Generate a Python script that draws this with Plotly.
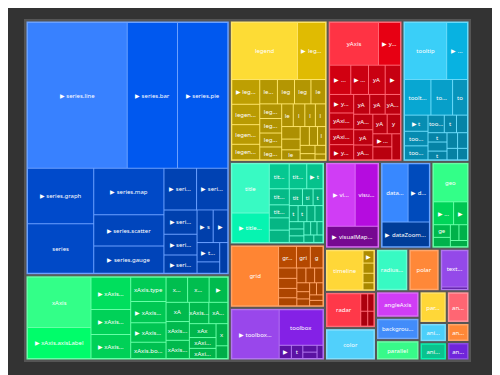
import colorsys
import plotly.graph_objects as go

# ---------------- data ----------------
group_names = ["series", "xAxis", "legend", "yAxis", "tooltip", "title", "grid", "toolbox",
               "visualMap", "dataZoom", "geo", "timeline", "radar", "textStyle"]

series_labels = ["▶ series.line", "▶ series.bar", "▶ series.pie", "▶ series.graph", "series",
                 "▶ series.map", "▶ series.scatter", "▶ series.gauge", "▶ seri...", "▶ seri...",
                 "▶ seri...", "▶ seri...", "▶ seri...", "▶ s", "▶", "▶ t...", "", ""]
series_values = [14600, 7360, 7360, 3700, 3300, 3290, 2200, 1930, 1370, 1310,
                 810, 690, 610, 530, 480, 440, 260, 250]

xaxis_labels = ["xAxis", "▶ xAxis.axisLabel", "▶ xAxis...", "▶ xAxis...", "▶ xAxis...", "xAxis.type",
                "▶ xAxis...", "▶ xAxis...", "xAxis.bo...", "x...", "x...", "▶", "xA", "xAxis...",
                "xAxis...", "xAxis...", "xA...", "xAx", "xAxi...", "xAxi...", "x", ""]
xaxis_values = [3300, 2050, 1330, 1030, 990, 890, 780, 710, 600, 560, 560, 485, 465, 455,
                440, 430, 420, 385, 300, 280, 270, 155]

legend_labels = ["legend", "▶ leg...", "▶ leg...", "legen...", "legen...", "legen...", "le...", "leg",
                 "leg", "le", "leg...", "leg...", "leg...", "leg...", "le", "l", "l", "l", "", "",
                 "le", "", "", "l", "", "", "", ""]
legend_values = [3900, 1670, 720, 592, 572, 452, 448, 433, 416, 372, 334, 332, 318, 294, 274,
                 273, 249, 242, 241, 206, 193, 180, 160, 158, 128, 96, 96, 64]

yaxis_labels = ["yAxis", "▶ y...", "▶ ...", "▶ ...", "yA", "▶", "▶ y...", "yAxi...", "yAxi...",
                "▶ y...", "yA", "yA", "yA...", "yA...", "yA", "yA...", "yA", "y", "▶ ...", "", ""]
yaxis_values = [2200, 990, 653, 547, 515, 473, 470, 410, 393, 385, 334, 322, 320, 314, 309,
                300, 296, 275, 261, 261, 238]

tooltip_labels = ["tooltip", "▶ ...", "toolt...", "to...", "to", "▶ t", "too...", "too...", "too...",
                  "t", "", "t", "", "t", "", "", "", ""]
tooltip_values = [2550, 1260, 1000, 820, 565, 403, 364, 349, 304, 228, 205, 188, 183, 176,
                  176, 165, 129, 121]

title_labels = ["title", "▶ title...", "tit...", "tit...", "▶ t", "tit...", "tit...", "", "", "tit",
                "ti", "t", "t", "t", "", "", "", "", "", "", "", "", "", ""]
title_values = [1966, 1171, 528, 466, 431, 342, 277, 262, 262, 236, 189, 177, 150, 150, 138,
                138, 113, 107, 102, 96, 90, 85, 79, 73]

grid_labels = ["grid", "gr...", "gri", "g", "", "", "", "", "", "", "", "", "", "", "", "", "", ""]
grid_values = [3000, 416, 323, 294, 205, 198, 185, 158, 145, 140, 134, 123, 100, 95, 90, 85, 80, 78]

toolbox_labels = ["▶ toolbox...", "toolbox", "▶", "t", "", "", ""]
toolbox_values = [2530, 1706, 176, 165, 106, 99, 86]

visualmap_labels = ["▶ vi...", "visu...", "▶ visualMap..."]
visualmap_values = [1925, 1565, 1150]

datazoom_labels = ["data...", "▶ d...", "▶ dataZoom..."]
datazoom_values = [1670, 1370, 1285]

geo_labels = ["geo", "▶ ...", "▶", "ge", "", "", "", ""]
geo_values = [1470, 525, 362, 244, 179, 154, 154, 120]

timeline_labels = ["timeline", "▶", "", "", ""]
timeline_values = [1636, 158, 129, 121, 90]

radar_labels = ["radar", "", "", "", ""]
radar_values = [1290, 143, 129, 123, 110]

textstyle_labels = ["text...", ""]
textstyle_values = [1160, 72]

# top-level options that show as a single tile
single_names = ["color", "radiusAxis", "polar", "angleAxis", "backgroundColor", "parallel",
                "parallelAxis", "animationDuration", "animationEasing", "animation",
                "animationDelay", "aria"]
single_labels = ["color", "radius...", "polar", "angleAxis", "backgrou...", "parallel",
                 "par...", "ani...", "ani...", "an...", "an...", "an..."]
single_values = [1600, 1339, 1296, 1118, 946, 860, 837, 513, 486, 698, 416, 405]

# ---------------- styling ----------------
# hue, saturation, lightness of largest tile, lightness of smallest tile
group_style = {
    "series": (218, 1.0, 0.61, 0.33), "xAxis": (145, 1.0, 0.60, 0.34),
    "legend": (50, 0.98, 0.60, 0.33), "yAxis": (355, 1.0, 0.60, 0.36),
    "tooltip": (193, 0.93, 0.60, 0.33), "title": (163, 0.95, 0.60, 0.34),
    "grid": (24, 1.0, 0.60, 0.33), "toolbox": (270, 0.80, 0.60, 0.35),
    "visualMap": (288, 0.90, 0.60, 0.30), "dataZoom": (216, 1.0, 0.61, 0.30),
    "geo": (145, 1.0, 0.60, 0.34), "timeline": (48, 1.0, 0.61, 0.33),
    "radar": (355, 1.0, 0.61, 0.33), "textStyle": (268, 0.78, 0.60, 0.35),
}
single_style = [(195, 0.95, 0.65), (163, 0.95, 0.60), (24, 1.0, 0.61), (288, 0.90, 0.60),
                (216, 0.95, 0.62), (145, 0.95, 0.60), (48, 1.0, 0.61), (195, 0.95, 0.64),
                (163, 0.90, 0.40), (355, 1.0, 0.70), (24, 1.0, 0.61), (265, 0.72, 0.50)]

GAP = "#555555"


def hls_hex(h, l, s):
    r, g, b = colorsys.hls_to_rgb(h / 360.0, max(0, min(1, l)), s)
    return "#%02x%02x%02x" % (round(r * 255), round(g * 255), round(b * 255))


group_data = {
    "series": (series_labels, series_values), "xAxis": (xaxis_labels, xaxis_values),
    "legend": (legend_labels, legend_values), "yAxis": (yaxis_labels, yaxis_values),
    "tooltip": (tooltip_labels, tooltip_values), "title": (title_labels, title_values),
    "grid": (grid_labels, grid_values), "toolbox": (toolbox_labels, toolbox_values),
    "visualMap": (visualmap_labels, visualmap_values), "dataZoom": (datazoom_labels, datazoom_values),
    "geo": (geo_labels, geo_values), "timeline": (timeline_labels, timeline_values),
    "radar": (radar_labels, radar_values), "textStyle": (textstyle_labels, textstyle_values),
}

ids, labels, parents, values, colors, texts = [], [], [], [], [], []
lcolors, lwidths = [], []

ids.append("root"); labels.append(" "); parents.append(""); values.append(0)
colors.append(GAP); texts.append(""); lcolors.append(GAP); lwidths.append(0)

for name in group_names:
    labs, vals = group_data[name]
    h, s, Ll, Ld = group_style[name]
    gid = "g:" + name
    ids.append(gid); labels.append(" "); parents.append("root"); values.append(0)
    colors.append(hls_hex(h, min(0.78, Ll + 0.1), s)); texts.append("")
    lcolors.append(GAP); lwidths.append(1)
    vmax, vmin = max(vals), min(vals)
    for i, (lab, v) in enumerate(zip(labs, vals)):
        t = (v - vmin) / (vmax - vmin) if vmax > vmin else 1.0
        ids.append(f"{gid}:{i}"); labels.append(lab if lab else " "); parents.append(gid)
        values.append(v); colors.append(hls_hex(h, Ld + (Ll - Ld) * t, s)); texts.append(lab)
        lcolors.append(GAP); lwidths.append(0)

for name, lab, v, (h, s, L) in zip(single_names, single_labels, single_values, single_style):
    gid = "g:" + name
    ids.append(gid); labels.append(" "); parents.append("root"); values.append(0)
    colors.append(hls_hex(h, min(0.8, L + 0.1), s)); texts.append("")
    lcolors.append(GAP); lwidths.append(1)
    ids.append(gid + ":0"); labels.append(lab); parents.append(gid); values.append(v)
    colors.append(hls_hex(h, L, s)); texts.append(lab)
    lcolors.append(GAP); lwidths.append(0)

fig = go.Figure(go.Treemap(
    ids=ids, labels=labels, parents=parents, values=values,
    branchvalues="remainder", sort=True,
    text=texts, textinfo="text", textposition="middle center",
    textfont=dict(family="Noto Sans", size=6.3, color="white"),
    marker=dict(colors=colors, line=dict(color=lcolors, width=lwidths),
                pad=dict(t=2, l=2, r=2, b=2)),
    tiling=dict(packing="squarify", squarifyratio=1.618034, pad=1),
    pathbar=dict(visible=False),
    hoverinfo="skip",
))

# the page body adds an 8px offset, so margins are reduced accordingly
fig.update_layout(
    width=500, height=375,
    margin=dict(l=16, r=37, t=11, b=21),
    paper_bgcolor="#333333", plot_bgcolor="#333333",
    uniformtext=dict(minsize=6, mode="show"),
    showlegend=False,
)

fig.write_html("out.html")
